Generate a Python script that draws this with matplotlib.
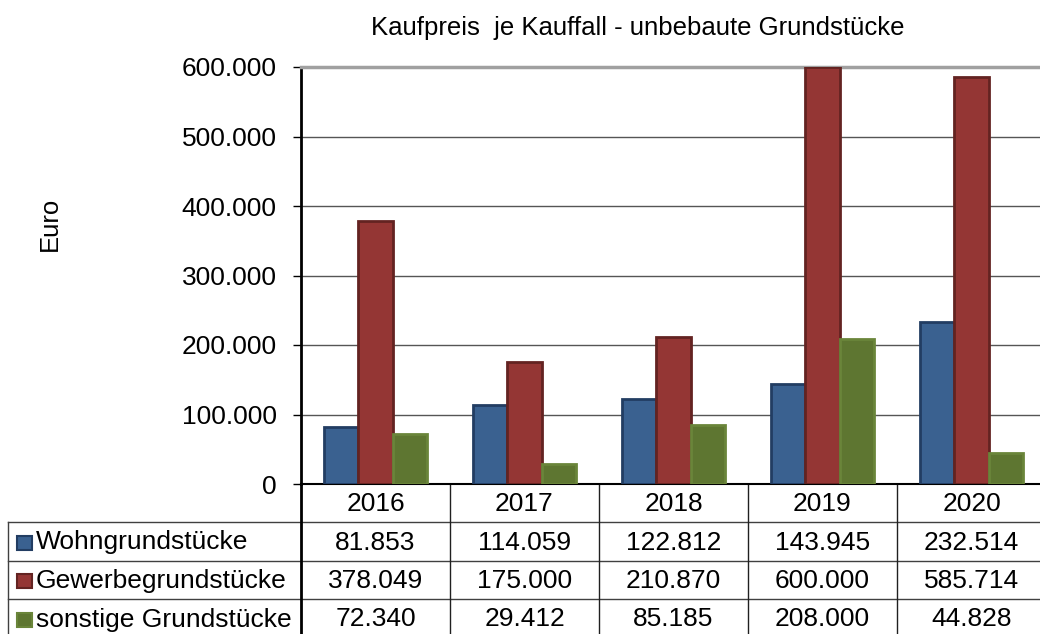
import numpy as np
import matplotlib
matplotlib.use("Agg")
import matplotlib.pyplot as plt
from matplotlib.patches import Rectangle

plt.rcParams['font.family'] = ['Liberation Sans', 'DejaVu Sans']

# data
years = ['2016', '2017', '2018', '2019', '2020']
series = ['Wohngrundstücke', 'Gewerbegrundstücke', 'sonstige Grundstücke']
wohn = [81853, 114059, 122812, 143945, 232514]
gewerbe = [378049, 175000, 210870, 600000, 585714]
sonstige = [72340, 29412, 85185, 208000, 44828]
values = [wohn, gewerbe, sonstige]

fills = ['#3A6190', '#943634', '#5E7631']
edges = ['#223D62', '#632321', '#6A853A']

W, H = 1040, 634
fig = plt.figure(figsize=(W / 100, H / 100), dpi=100)

# plot area in pixel coords (right edge runs slightly beyond the picture)
left, right, top, bottom = 301, 1046, 67, 484
ax = fig.add_axes([left / W, 1 - bottom / H, (right - left) / W, (bottom - top) / H])

x = np.arange(len(years))
bw = 0.23
for i, (vals, fc, ec) in enumerate(zip(values, fills, edges)):
    ax.bar(x + (i - 1) * bw + 0.5, vals, width=bw, color=fc, edgecolor=ec,
           linewidth=2, zorder=3)

ax.set_xlim(0, len(years))
ax.set_ylim(0, 600000)
ax.set_yticks(np.arange(0, 600001, 100000))
ax.set_yticklabels(['0' if v == 0 else f'{v:,}'.replace(',', '.') for v in range(0, 600001, 100000)],
                   fontsize=19)
ax.tick_params(axis='y', length=6, width=1, color='black', pad=11.5)
ax.set_xticks([])
ax.grid(axis='y', color='#555555', linewidth=1, zorder=0)
ax.spines['top'].set_color('#A0A0A0')
ax.spines['top'].set_linewidth(2.5)
ax.spines['right'].set_visible(False)
ax.spines['left'].set_linewidth(2)
ax.spines['bottom'].set_linewidth(1.5)

# table in pixel coordinates
tax = fig.add_axes([0, 0, 1, 1], zorder=-1)
tax.set_xlim(0, W)
tax.set_ylim(H, 0)
tax.axis('off')

colw = (right - left) / len(years)
row_y = [484, 522, 561, 599, 638]
# horizontal lines
for yy in row_y[1:4]:
    tax.plot([8, W], [yy, yy], color='#404040', lw=1)
# vertical lines
tax.plot([8, 8], [row_y[1], H], color='#404040', lw=1)
tax.plot([left, left], [bottom, H], color='black', lw=2)
for j in range(1, len(years) + 1):
    xx = left + j * colw
    tax.plot([xx, xx], [bottom, H], color='#202020', lw=1)

for j, yr in enumerate(years):
    cx = left + (j + 0.5) * colw
    tax.text(cx, (row_y[0] + row_y[1]) / 2 + 1, yr, ha='center', va='center', fontsize=19)
for i, name in enumerate(series):
    cy = (row_y[i + 1] + row_y[i + 2]) / 2 + 1
    tax.add_patch(Rectangle((17, cy - 7), 15, 14, facecolor=fills[i], edgecolor=edges[i], lw=1.5))
    tax.text(36, cy, name, ha='left', va='center', fontsize=19)
    for j in range(len(years)):
        cx = left + (j + 0.5) * colw
        tax.text(cx, cy, f'{values[i][j]:,}'.replace(',', '.'), ha='center', va='center', fontsize=19)

fig.text(638 / W, 1 - 28 / H, 'Kaufpreis  je Kauffall - unbebaute Grundstücke',
         ha='center', va='center', fontsize=18.5)
fig.text(50 / W, 1 - 224 / H, 'Euro', ha='center', va='center', rotation=90, fontsize=18.5)

fig.savefig('out.png', dpi=100)
